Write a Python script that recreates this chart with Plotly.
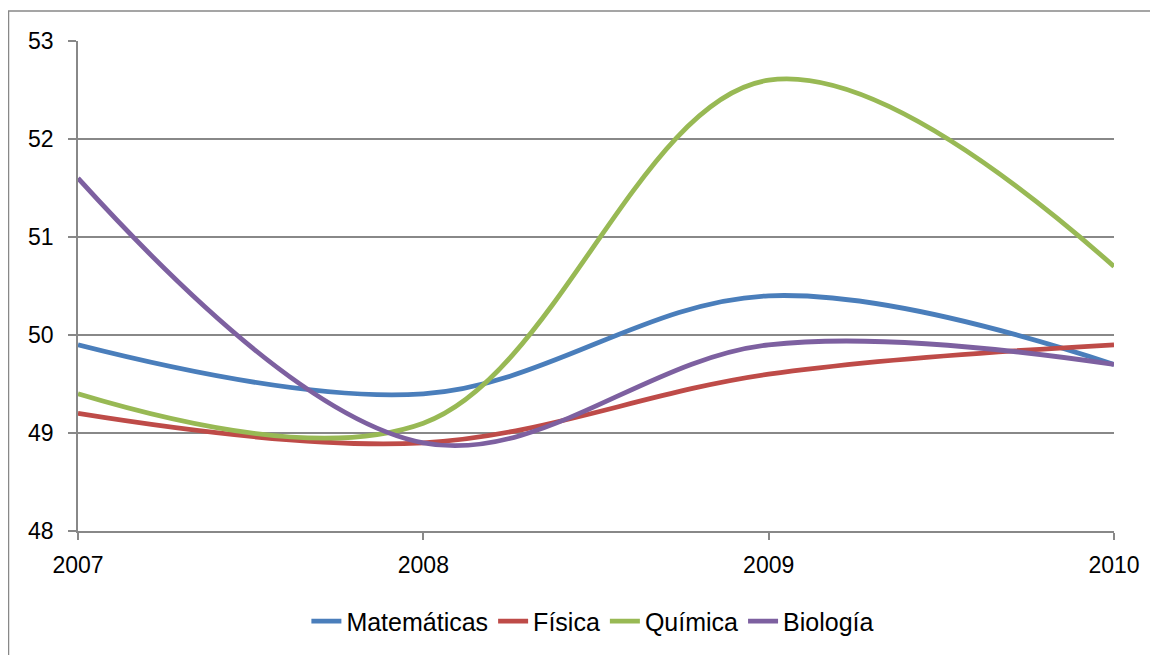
import plotly.graph_objects as go

years = [2007, 2008, 2009, 2010]
matematicas = [49.9, 49.4, 50.4, 49.7]
fisica = [49.2, 48.9, 49.6, 49.9]
quimica = [49.4, 49.1, 52.6, 50.7]
biologia = [51.6, 48.9, 49.9, 49.7]

series = [
    ("Matemáticas", matematicas, "#4A7EBB"),
    ("Física", fisica, "#BE4B48"),
    ("Química", quimica, "#98B954"),
    ("Biología", biologia, "#7D60A0"),
]

FONT = "Liberation Sans, Arial, sans-serif"
GRID = "#888888"

fig = go.Figure()
for name, vals, color in series:
    fig.add_trace(go.Scatter(
        x=years, y=vals, name=name, mode="lines",
        line=dict(color=color, width=4.8, shape="spline", smoothing=1.05),
        cliponaxis=False,
    ))

# page body has an 8px margin; compensate so the plot area lands at
# screen x 78..1114, y 41..531.5
OFF = 8
W, H = 1158, 655
L, T = 78 - OFF, 41 - OFF
R = (W + OFF) - 1114
B = (H + OFF) - 531.5
pw = W - L - R
ph = H - T - B

fig.update_layout(
    width=W, height=H,
    margin=dict(l=L, r=R, t=T, b=B, pad=0),
    paper_bgcolor="white", plot_bgcolor="white",
    font=dict(family=FONT, size=23, color="black"),
    showlegend=True,
    legend=dict(
        orientation="h", x=0.497, xanchor="center",
        y=-(622 - 531.5) / ph, yanchor="middle",
        font=dict(family=FONT, size=25, color="black"),
        tracegroupgap=0,
    ),
    xaxis=dict(
        range=[2007, 2010], tickvals=years, ticktext=[str(y) for y in years],
        showgrid=False, zeroline=False, showline=True, linecolor=GRID, linewidth=1.5,
        ticks="outside", ticklen=7, tickcolor=GRID, tickwidth=1.5,
        tickfont=dict(family=FONT, size=23, color="black"),
        ticklabelstandoff=6,
    ),
    yaxis=dict(
        range=[48, 53], tickvals=[48, 49, 50, 51, 52, 53],
        showgrid=True, gridcolor=GRID, gridwidth=1.5,
        zeroline=False, showline=True, linecolor=GRID, linewidth=1.5,
        ticks="outside", ticklen=8, tickcolor=GRID, tickwidth=1.5,
        tickfont=dict(family=FONT, size=23, color="black"),
        ticklabelstandoff=10,
    ),
    shapes=[dict(
        type="rect", xref="paper", yref="paper",
        x0=(8.5 - 78) / pw, x1=1.2, y0=-0.4, y1=1 + (41 - 11) / ph,
        line=dict(color=GRID, width=1.5), fillcolor="rgba(0,0,0,0)", layer="below",
    )],
)

fig.write_html("out.html")
